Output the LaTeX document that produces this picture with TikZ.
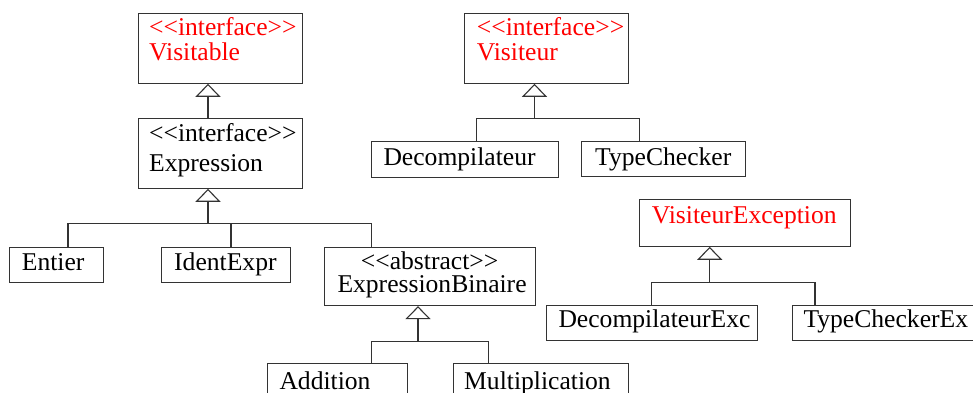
\documentclass[tikz,border=0pt]{standalone}
\usepackage{fontspec}
% plain family without TeX ligature mapping, so that << and >> stay as typed
\newfontfamily\umlfont{Liberation Serif}
\usetikzlibrary{arrows.meta,calc}
\tikzset{
  cls/.style={draw=black!80, line width=1.1pt, inner sep=0pt, anchor=north west},
  lbl/.style={anchor=base west, inner sep=0pt, font=\umlfont\fontsize{25.6}{30}\selectfont},
  redlbl/.style={lbl, text=red},
  link/.style={draw=black!80, line width=1.1pt},
  gen/.style={link, -{Triangle[open, length=13pt, width=25pt, fill=white]}},
}
\begin{document}
\begin{tikzpicture}[x=1pt, y=-1pt]
\useasboundingbox (0,0) rectangle (973,392);
\clip (0,0) rectangle (973,392);

% ---- class boxes ----
\node[cls, minimum width=163.7pt, minimum height=70pt]   (visitable) at (138,12.7)   {};
\node[cls, minimum width=163.7pt, minimum height=70pt]   (expr)      at (138,117.7)  {};
\node[cls, minimum width=94pt,    minimum height=35pt]   (entier)    at (9,246.7)    {};
\node[cls, minimum width=128.4pt, minimum height=35pt]   (ident)     at (161.3,246.7){};
\node[cls, minimum width=210.7pt, minimum height=58.3pt] (exbin)     at (324.3,246.7){};
\node[cls, minimum width=140pt,   minimum height=36pt]   (add)       at (266.7,363.3){};
\node[cls, minimum width=175.6pt, minimum height=36pt]   (mult)      at (452.7,363.3){};

\node[cls, minimum width=164pt,   minimum height=70pt]   (visiteur)  at (464.3,12.7) {};
\node[cls, minimum width=187.3pt, minimum height=36pt]   (decomp)    at (371,140.7)  {};
\node[cls, minimum width=164pt,   minimum height=35.5pt] (tcheck)    at (581,140.7)  {};

\node[cls, minimum width=210.7pt, minimum height=46.4pt] (visexc)    at (639.3,199.3){};
\node[cls, minimum width=211pt,   minimum height=35pt]   (decexc)    at (545.7,305)  {};
\node[cls, minimum width=220pt,   minimum height=35pt]   (tcexc)     at (791.7,305)  {};

% ---- labels ----
\node[redlbl] (t1a) at (149,35.7)   {<<interface>>};
\node[redlbl] (t1b) at (149,60)     {Visitable};
\node[lbl]    (t2a) at (149,141.7)  {<<interface>>};
\node[lbl]    (t2b) at (149,171.7)  {Expression};
\node[lbl]    (t3)  at (21.7,270)   {Entier};
\node[lbl]    (t4)  at (174,270)    {IdentExpr};
\node[lbl, anchor=base] (t5a) at (429.6,269.5) {<<abstract>>};
\node[lbl]    (t5b) at (337.3,292.7){ExpressionBinaire};
\node[lbl]    (t6)  at (279.3,389)  {Addition};
\node[lbl]    (t7)  at (464,389)    {Multiplication};

\node[redlbl] (t8a) at (476.7,35.7) {<<interface>>};
\node[redlbl] (t8b) at (476.7,60)   {Visiteur};
\node[lbl]    (t9)  at (383.3,165.7){Decompilateur};
\node[lbl]    (t10) at (595,165.7)  {TypeChecker};

\node[redlbl] (t11) at (651.7,223.3){VisiteurException};
\node[lbl]    (t12) at (558.3,327.7){DecompilateurExc};
\node[lbl]    (t13) at (803.3,327.7){TypeCheckerEx};

% ---- generalisation links ----
\draw[gen] ($(expr.north west)+(70,0)$) -- ($(visitable.south west)+(70,0)$);

\coordinate (jexpr) at ($(expr.south west)+(70,35)$);
\draw[link] ($(entier.north west)+(59,0)$) |- (jexpr);
\draw[link] ($(ident.north west)+(69.7,0)$) |- (jexpr);
\draw[link] ($(exbin.north west)+(47.4,0)$) |- (jexpr);
\draw[gen] (jexpr) -- ($(expr.south west)+(70,0)$);

\coordinate (jbin) at ($(exbin.south west)+(93.7,35)$);
\draw[link] ($(add.north west)+(105,0)$) |- (jbin);
\draw[link] ($(mult.north west)+(35.6,0)$) |- (jbin);
\draw[gen] (jbin) -- ($(exbin.south west)+(93.7,0)$);

\coordinate (jvis) at ($(visiteur.south west)+(70.2,34.6)$);
\draw[link] ($(decomp.north west)+(105.3,0)$) |- (jvis);
\draw[link] ($(tcheck.north west)+(58.3,0)$) |- (jvis);
\draw[gen] (jvis) -- ($(visiteur.south west)+(70.2,0)$);

\coordinate (jexc) at ($(visexc.south west)+(70.4,35.3)$);
\draw[link] ($(decexc.north west)+(106,0)$) |- (jexc);
\draw[link] ($(tcexc.north west)+(23.3,0)$) |- (jexc);
\draw[gen] (jexc) -- ($(visexc.south west)+(70.4,0)$);
\end{tikzpicture}
\end{document}
